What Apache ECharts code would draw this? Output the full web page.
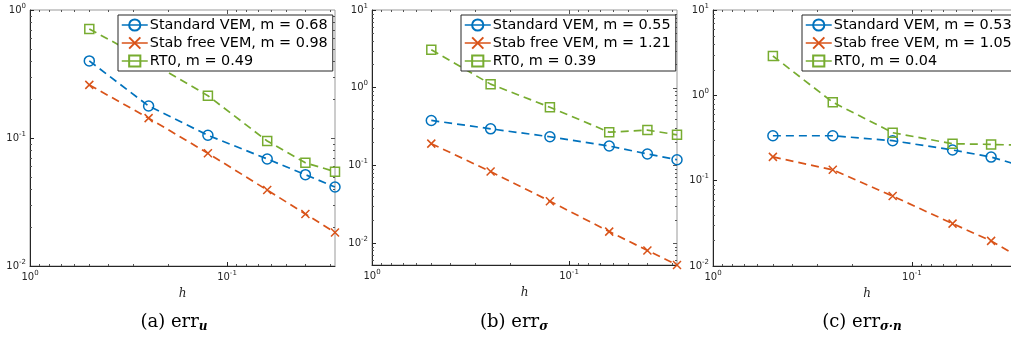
<!DOCTYPE html>
<html>
<head>
<meta charset="utf-8">
<script src="https://cdn.jsdelivr.net/npm/echarts@6/dist/echarts.min.js"></script>
<style>
  html, body {margin: 0; padding: 0; background: #fff;}
  #main {width: 1011px; height: 337px;}
</style>
</head>
<body>
<div id="main"></div>
<script>
// mesh sizes
const hVals = [0.5, 0.25, 0.125, 0.0625, 0.04, 0.0283]

// (a) err_u
const errUStd = [0.40, 0.178, 0.105, 0.0686, 0.0517, 0.0414]
const errUFree = [0.26, 0.143, 0.076, 0.0392, 0.0255, 0.0183]
const errURt0 = [0.71, 0.40, 0.214, 0.0948, 0.064, 0.0546]
const namesU = ['Standard VEM, m = 0.68', 'Stab free VEM, m = 0.98', 'RT0, m = 0.49']

// (b) err_sigma
const errSStd = [0.378, 0.295, 0.233, 0.177, 0.14, 0.118]
const errSFree = [0.19, 0.083, 0.0345, 0.014, 0.008, 0.0052]
const errSRt0 = [3.07, 1.11, 0.56, 0.267, 0.284, 0.247]
const namesS = ['Standard VEM, m = 0.55', 'Stab free VEM, m = 1.21', 'RT0, m = 0.39']

// (c) err_sigma.n
const errSNStd = [0.336, 0.336, 0.294, 0.229, 0.189, 0.15]
const errSNFree = [0.19, 0.134, 0.066, 0.0314, 0.0197, 0.0123]
const errSNRt0 = [2.89, 0.83, 0.365, 0.271, 0.266, 0.26]
const namesSN = ['Standard VEM, m = 0.53', 'Stab free VEM, m = 1.05', 'RT0, m = 0.04']

const xRange = [0.0283, 1]
const yRanges = [[0.01, 1], [0.0052, 10], [0.01, 10]]

const panels = [
  {grid: {left: 30, top: 10, width: 305, height: 256}, legendLeft: 118, names: namesU,
    series: [errUStd, errUFree, errURt0], caption: '(a) err{s|u}', capX: 174},
  {grid: {left: 372, top: 10, width: 305, height: 255}, legendLeft: 461, names: namesS,
    series: [errSStd, errSFree, errSRt0], caption: '(b) err{s|σ}', capX: 514},
  {grid: {left: 713, top: 10, width: 308, height: 256}, legendLeft: 802, names: namesSN,
    series: [errSNStd, errSNFree, errSNRt0], caption: '(c) err{s|σ·n}', capX: 862}
]

const colors = ['#0072BD', '#D95319', '#77AC30']
const symbols = ['circle', 'path://M0 0L10 10M10 0L0 10', 'rect']
const symbolSizes = [10, 8, 9]
const axisColor = '#262626'

const powLabel = (v) => {
  const e = Math.round(Math.log10(v))
  return '{b|10}{s|' + e + '}'
}
const powRich = {
  b: {fontSize: 10, color: axisColor, fontFamily: 'DejaVu Sans'},
  s: {fontSize: 7, padding: [0, 0, 8, 0], color: axisColor, fontFamily: 'DejaVu Sans'}
}

const chart = echarts.init(document.getElementById('main'), null, {renderer: 'canvas'})

const option = {
  animation: false,
  backgroundColor: '#fff',
  grid: panels.map(p => Object.assign({
    show: true, borderColor: '#999', borderWidth: 1, backgroundColor: 'transparent',
    containLabel: false, outerBoundsMode: 'none'
  }, p.grid)),
  xAxis: panels.map((p, i) => ({
    type: 'log',
    gridIndex: i,
    inverse: true,
    min: xRange[0],
    max: xRange[1],
    name: 'h',
    nameLocation: 'middle',
    nameGap: 18,
    nameTextStyle: {fontFamily: 'DejaVu Serif', fontStyle: 'italic', fontSize: 12, color: axisColor},
    axisLine: {lineStyle: {color: axisColor, width: 1}},
    axisTick: {inside: true, length: 4, lineStyle: {color: axisColor}},
    axisLabel: {formatter: powLabel, rich: powRich, margin: 4, showMinLabel: false},
    splitLine: {show: false}
  })),
  yAxis: panels.map((p, i) => ({
    type: 'log',
    gridIndex: i,
    min: yRanges[i][0],
    max: yRanges[i][1],
    axisLine: {show: true, lineStyle: {color: axisColor, width: 1}},
    axisTick: {show: true, inside: true, length: 4, lineStyle: {color: axisColor}},
    axisLabel: {formatter: powLabel, rich: powRich, margin: 4, showMinLabel: i !== 1},
    splitLine: {show: false}
  })),
  legend: panels.map(p => ({
    data: p.names,
    left: p.legendLeft,
    top: 15,
    orient: 'vertical',
    backgroundColor: '#fff',
    borderColor: axisColor,
    borderWidth: 1,
    borderRadius: 0,
    padding: [3, 5, 3, 3],
    itemGap: 4,
    itemWidth: 26,
    itemHeight: 14,
    lineStyle: {type: 'solid', width: 1.5},
    textStyle: {fontFamily: 'DejaVu Sans', fontSize: 14.4, color: '#000', padding: [0, 0, 0, -3]},
    selectedMode: false
  })),
  series: []
}

panels.forEach((p, i) => {
  p.series.forEach((vals, j) => {
    option.series.push({
      name: p.names[j],
      type: 'line',
      xAxisIndex: i,
      yAxisIndex: i,
      data: hVals.map((h, k) => [h, vals[k]]),
      clip: false,
      symbol: symbols[j],
      symbolSize: symbolSizes[j],
      showAllSymbol: true,
      color: colors[j],
      itemStyle: {color: 'transparent', borderColor: colors[j], borderWidth: 1.5},
      lineStyle: {color: colors[j], width: 1.7, type: [8, 5]},
      emphasis: {disabled: true}
    })
  })
})

chart.setOption(option)

// minor log ticks plus the top/right ticks that matlab draws on the box
const tickEls = []
const seg = (x1, y1, x2, y2) => tickEls.push({
  type: 'line', silent: true, z: 3,
  shape: {x1, y1, x2, y2},
  style: {stroke: '#555', lineWidth: 1}
})
panels.forEach((p, i) => {
  const xl = chart.convertToPixel({xAxisIndex: i}, xRange[1])
  const xr = chart.convertToPixel({xAxisIndex: i}, xRange[0])
  const yt = chart.convertToPixel({yAxisIndex: i}, yRanges[i][1])
  const yb = chart.convertToPixel({yAxisIndex: i}, yRanges[i][0])
  for (let k = -3; k <= 1; k++) {
    for (let m = 1; m <= 9; m++) {
      const v = m * Math.pow(10, k)
      const len = m === 1 ? 4 : 2
      if (v > xRange[0] && v < xRange[1]) {
        const px = Math.round(chart.convertToPixel({xAxisIndex: i}, v)) + 0.5
        if (m > 1) seg(px, yb, px, yb - len)
        seg(px, yt, px, yt + len)
      }
      if (v > yRanges[i][0] && v < yRanges[i][1]) {
        const py = Math.round(chart.convertToPixel({yAxisIndex: i}, v)) + 0.5
        if (m > 1) seg(xl, py, xl + len, py)
        seg(xr, py, xr - len, py)
      }
    }
  }
  tickEls.push({
    type: 'text', silent: true,
    style: {
      x: p.capX, y: 322, text: p.caption, align: 'center', verticalAlign: 'middle',
      fill: '#000', font: '18px "DejaVu Serif"',
      rich: {s: {fontSize: 12, fontWeight: 'bold', fontStyle: 'italic', fontFamily: 'DejaVu Serif', padding: [9, 0, 0, 0], fill: '#000'}}
    }
  })
})

chart.setOption({graphic: tickEls})
</script>
</body>
</html>
